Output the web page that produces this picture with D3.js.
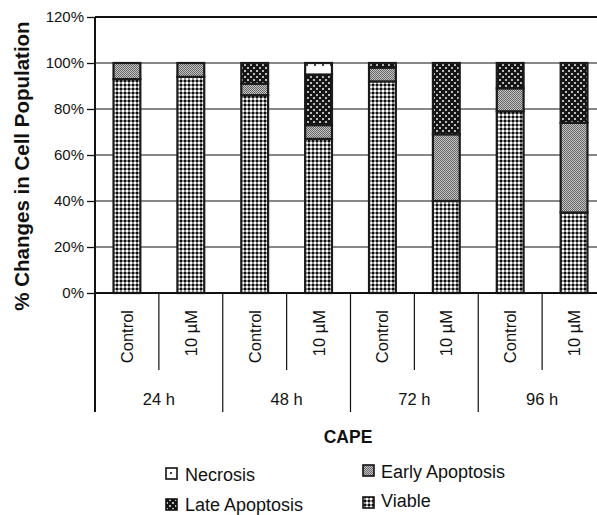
<!DOCTYPE html>
<html>
<head>
<meta charset="utf-8">
<script src="https://cdn.jsdelivr.net/npm/d3@7/dist/d3.min.js"></script>
<style>
  html, body { margin: 0; padding: 0; background: #fff; }
  svg { display: block; font-family: "Liberation Sans", Arial, Helvetica, sans-serif; }
</style>
</head>
<body>
<svg id="chart" width="597" height="515"></svg>
<script>
// Treatment groups and per-bar conditions
const times = ["24 h", "48 h", "72 h", "96 h"];
const conditions = ["Control", "10 µM"];
const bars = ["24 h|Control", "24 h|10 µM", "48 h|Control", "48 h|10 µM",
              "72 h|Control", "72 h|10 µM", "96 h|Control", "96 h|10 µM"];

// Cell population shares (%) per bar, bottom to top
const viable   = [93, 94, 86, 67, 92, 40, 79, 35];
const early    = [7, 6, 5, 6, 6, 29, 10, 39];
const late     = [0, 0, 9, 22, 2, 31, 11, 26];
const necrosis = [0, 0, 0, 5, 0, 0, 0, 0];

const yTicks = [0, 20, 40, 60, 80, 100, 120];
const seriesKeys = ["viable", "early", "late", "necrosis"];
const seriesNames = { viable: "Viable", early: "Early Apoptosis", late: "Late Apoptosis", necrosis: "Necrosis" };

const rows = bars.map((b, i) => ({
  bar: b, viable: viable[i], early: early[i], late: late[i], necrosis: necrosis[i]
}));

const svg = d3.select("#chart");
const plotLeft = 95, plotRight = 606, plotTop = 17, plotBottom = 293;

// Fill patterns for the four populations
const defs = svg.append("defs");
function pat(id, w, h, draw) {
  const p = defs.append("pattern").attr("id", id).attr("patternUnits", "userSpaceOnUse")
    .attr("width", w).attr("height", h);
  draw(p);
}
pat("p-viable", 4, 4, p => {
  p.append("rect").attr("width", 4).attr("height", 4).attr("fill", "#8c8c8c");
  p.append("rect").attr("width", 2).attr("height", 2).attr("fill", "#0d0d0d");
  p.append("rect").attr("x", 2).attr("y", 2).attr("width", 2).attr("height", 2).attr("fill", "#fff");
});
pat("p-early", 2, 2, p => {
  p.append("rect").attr("width", 2).attr("height", 2).attr("fill", "#c4c4c4");
  p.append("rect").attr("width", 1).attr("height", 1).attr("fill", "#666");
  p.append("rect").attr("x", 1).attr("y", 1).attr("width", 1).attr("height", 1).attr("fill", "#666");
});
pat("p-late", 6, 6, p => {
  p.append("rect").attr("width", 6).attr("height", 6).attr("fill", "#151515");
  p.append("rect").attr("x", 1).attr("y", 1).attr("width", 2).attr("height", 2).attr("fill", "#bbb");
  p.append("rect").attr("x", 4).attr("y", 4).attr("width", 2).attr("height", 2).attr("fill", "#bbb");
});
pat("p-necrosis", 16, 12, p => {
  p.append("rect").attr("width", 16).attr("height", 12).attr("fill", "#fff");
  p.append("rect").attr("x", 2).attr("y", 4).attr("width", 2).attr("height", 2).attr("fill", "#444");
  p.append("rect").attr("x", 10).attr("y", 4).attr("width", 2).attr("height", 2).attr("fill", "#444");
});

const x = d3.scaleBand().domain(bars).range([plotLeft, plotRight]).paddingInner(0.58).paddingOuter(0.29);
const y = d3.scaleLinear().domain([0, 120]).range([plotBottom, plotTop]);
const step = x.step();
const edge = i => plotLeft + i * step; // category boundary i

// Horizontal gridlines
svg.append("g").selectAll("line").data(yTicks.filter(d => d > 0)).join("line")
  .attr("x1", plotLeft).attr("x2", 597).attr("y1", d => y(d)).attr("y2", d => y(d))
  .attr("stroke", "#111").attr("stroke-width", d => d === 120 ? 1.8 : 1.2);

// Stacked bars
const stacked = d3.stack().keys(seriesKeys)(rows);
svg.append("g").selectAll("g").data(stacked).join("g")
  .attr("fill", d => `url(#p-${d.key})`)
  .selectAll("rect").data(d => d.filter(s => s[1] - s[0] > 0)).join("rect")
  .attr("x", d => x(d.data.bar)).attr("width", x.bandwidth())
  .attr("y", d => y(d[1])).attr("height", d => y(d[0]) - y(d[1]))
  .attr("stroke", "#1a1a1a").attr("stroke-width", 2.2);

// Y axis
const yAxis = svg.append("g").attr("transform", `translate(${plotLeft},0)`)
  .call(d3.axisLeft(y).tickValues(yTicks).tickFormat(d => d + "%").tickSize(8).tickPadding(3));
yAxis.select(".domain").remove();
yAxis.selectAll(".tick line").attr("stroke", "#111").attr("stroke-width", 1.3);
yAxis.selectAll(".tick text").attr("font-size", 15).attr("fill", "#111")
  .attr("font-family", "'Liberation Sans', Arial, sans-serif");
svg.append("line").attr("x1", plotLeft).attr("x2", plotLeft).attr("y1", plotTop).attr("y2", 412)
  .attr("stroke", "#111").attr("stroke-width", 2);
svg.append("line").attr("x1", plotLeft).attr("x2", 597).attr("y1", plotBottom).attr("y2", plotBottom)
  .attr("stroke", "#111").attr("stroke-width", 2.2);

// Category axis: dividers between conditions and between time groups
const divs = d3.range(1, bars.length + 1);
svg.append("g").selectAll("line").data(divs).join("line")
  .attr("x1", i => edge(i)).attr("x2", i => edge(i))
  .attr("y1", plotBottom).attr("y2", i => i % 2 === 0 ? 412 : 370)
  .attr("stroke", "#111").attr("stroke-width", 1.2);

svg.append("g").selectAll("text").data(bars).join("text")
  .attr("transform", d => `translate(${x(d) + x.bandwidth() / 2 + 6},310) rotate(-90)`)
  .attr("text-anchor", "end").attr("font-size", 16.5).attr("fill", "#111")
  .text(d => d.split("|")[1]);

svg.append("g").selectAll("text").data(times).join("text")
  .attr("x", (d, i) => edge(2 * i) + step).attr("y", 405)
  .attr("text-anchor", "middle").attr("font-size", 16.5).attr("fill", "#111")
  .text(d => d);

// Axis titles
svg.append("text").attr("x", 348).attr("y", 443).attr("text-anchor", "middle")
  .attr("font-size", 17.5).attr("font-weight", "bold").attr("fill", "#111").text("CAPE");
svg.append("text").attr("transform", `translate(29,166) rotate(-90)`).attr("text-anchor", "middle")
  .attr("font-size", 20.5).attr("font-weight", "bold").attr("fill", "#111")
  .text("% Changes in Cell Population");

// Legend
const legendItems = [
  { key: "necrosis", sx: 166, sy: 468, tx: 185, ty: 481 },
  { key: "late",     sx: 166, sy: 499, tx: 185, ty: 510.5 },
  { key: "early",    sx: 363, sy: 465, tx: 381, ty: 478 },
  { key: "viable",   sx: 363, sy: 497, tx: 381, ty: 507 }
];
const lg = svg.append("g").selectAll("g").data(legendItems).join("g");
lg.append("rect").attr("x", d => d.sx).attr("y", d => d.sy).attr("width", 11).attr("height", 11)
  .attr("fill", d => `url(#p-${d.key})`).attr("stroke", "#111").attr("stroke-width", 1.6);
lg.append("text").attr("x", d => d.tx).attr("y", d => d.ty).attr("font-size", 18).attr("fill", "#111")
  .text(d => seriesNames[d.key]);
</script>
</body>
</html>
